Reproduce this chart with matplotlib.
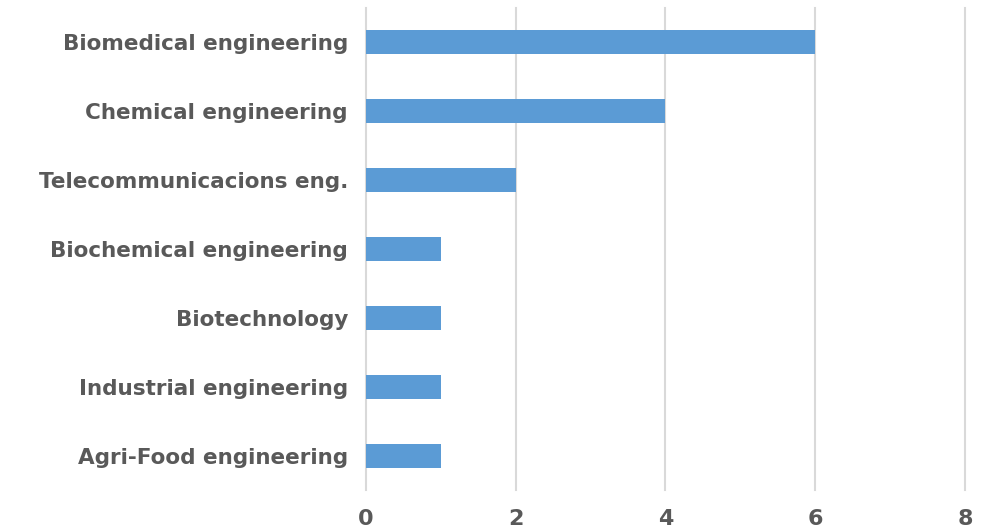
import matplotlib.pyplot as plt

# Number of people per field of study
fields = ['Biomedical engineering', 'Chemical engineering', 'Telecommunicacions eng.',
          'Biochemical engineering', 'Biotechnology', 'Industrial engineering',
          'Agri-Food engineering']
counts = [6, 4, 2, 1, 1, 1, 1]
x_ticks = [0, 2, 4, 6, 8]

plt.rcParams['font.family'] = ['DejaVu Sans']
text_color = '#595959'

fig = plt.figure(figsize=(9.87, 5.31), dpi=100)
ax = fig.add_axes([0.3708, 0.0772, 0.6069, 0.9078])

positions = list(range(len(fields)))
ax.barh(positions, counts, height=0.35, color='#5B9BD5', zorder=3)

ax.set_xlim(0, 8)
ax.set_ylim(len(fields) - 0.5, -0.5)
ax.set_xticks(x_ticks)
ax.set_xticklabels([str(t) for t in x_ticks], fontsize=16, fontweight='bold', color=text_color)
ax.set_yticks(positions)
ax.set_yticklabels(fields, fontsize=15.5, fontweight='bold', color=text_color)

ax.grid(axis='x', color='#D9D9D9', linewidth=1.5, zorder=0)
# keep the edge gridlines at full width
for gl in ax.get_xgridlines():
    gl.set_clip_on(False)
for spine in ax.spines.values():
    spine.set_visible(False)
ax.tick_params(axis='both', length=0)
ax.tick_params(axis='y', pad=13)
ax.tick_params(axis='x', pad=14)

fig.savefig('out.png', dpi=100)
